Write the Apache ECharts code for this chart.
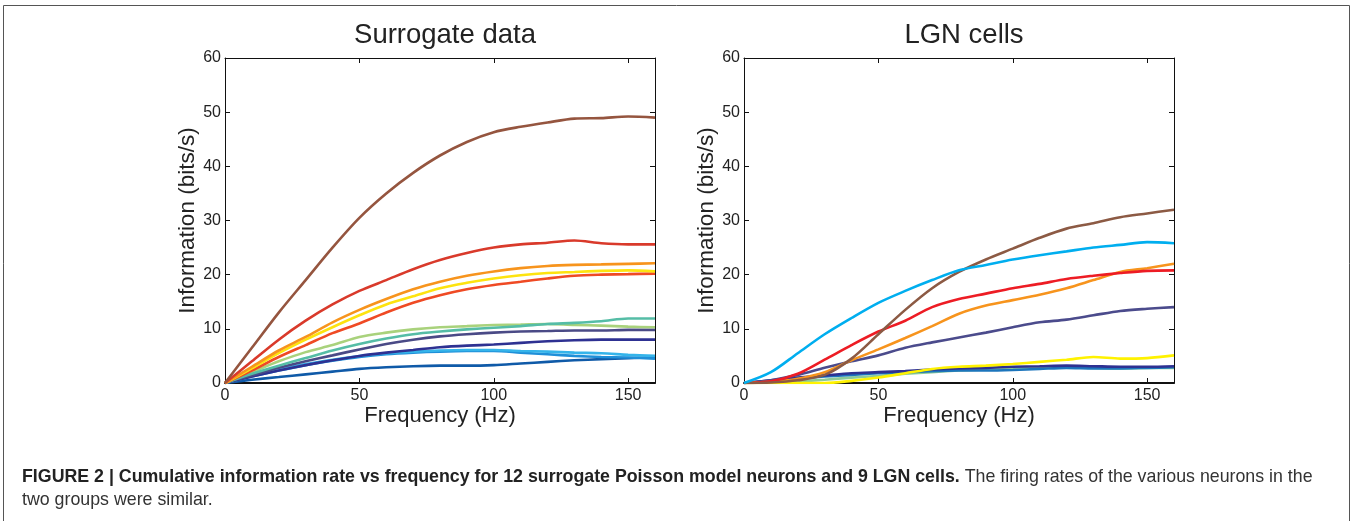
<!DOCTYPE html>
<html>
<head>
<meta charset="utf-8">
<script src="https://cdn.jsdelivr.net/npm/echarts@6/dist/echarts.min.js"></script>
<style>
  html, body { margin: 0; padding: 0; background: #fff; }
  #chart { width: 1353px; height: 521px; }
</style>
</head>
<body>
<div id="chart"></div>
<script>
// frequency samples (Hz)
const freq = [0, 10, 20, 30, 40, 50, 60, 70, 80, 90, 100, 110, 120, 130, 140, 150, 160];

// surrogate Poisson neurons, information (bits/s)
const surBrown     = [0, 6.5, 13, 19, 25, 30.5, 35, 38.8, 42, 44.5, 46.3, 47.3, 48.1, 48.8, 48.9, 49.2, 49];
const surRed       = [0, 4, 8, 11.5, 14.5, 17, 19, 21, 22.7, 24, 25, 25.6, 25.9, 26.3, 25.8, 25.6, 25.6];
const surOrange    = [0, 3, 6, 8.5, 11.2, 13.5, 15.5, 17.3, 18.7, 19.8, 20.6, 21.2, 21.6, 21.8, 21.9, 22, 22.1];
const surYellow    = [0, 2.7, 5.5, 8, 10.3, 12.5, 14.5, 16, 17.5, 18.5, 19.3, 19.9, 20.3, 20.5, 20.7, 20.8, 20.6];
const surRedOrange = [0, 2.3, 4.8, 7, 9.2, 11, 13, 14.8, 16.2, 17.3, 18.1, 18.7, 19.3, 19.8, 20, 20.1, 20.2];
const surTeal      = [0, 1.7, 3.2, 4.6, 6, 7.2, 8.2, 9, 9.5, 9.9, 10.2, 10.5, 10.9, 11.1, 11.4, 11.9, 11.9];
const surLtGreen   = [0, 2, 4, 5.7, 7, 8.5, 9.3, 9.9, 10.3, 10.5, 10.7, 10.8, 10.9, 10.7, 10.6, 10.4, 10.3];
const surSlate     = [0, 1.4, 2.8, 4, 5.1, 6.2, 7.2, 8, 8.6, 9, 9.3, 9.5, 9.6, 9.7, 9.7, 9.8, 9.8];
const surIndigo    = [0, 1.2, 2.3, 3.3, 4.2, 5, 5.6, 6.1, 6.6, 6.9, 7.1, 7.4, 7.7, 7.9, 8, 8, 8];
const surSky       = [0, 1.3, 2.5, 3.5, 4.3, 5, 5.5, 5.8, 6, 6.1, 6.1, 5.9, 5.8, 5.6, 5.5, 5.2, 5];
const surBlue      = [0, 1.2, 2.3, 3.3, 4.1, 4.8, 5.3, 5.6, 5.8, 5.9, 5.9, 5.6, 5.3, 5, 4.8, 4.7, 4.5];
const surDkBlue    = [0, 0.6, 1.1, 1.6, 2.1, 2.6, 2.9, 3.1, 3.2, 3.2, 3.3, 3.6, 3.9, 4.2, 4.4, 4.6, 4.7];

// LGN cells, information (bits/s)
const lgnCyan    = [0, 2, 5.5, 9, 12, 14.8, 17, 19, 20.8, 21.8, 22.8, 23.6, 24.3, 25, 25.5, 26, 25.8];
const lgnBrown   = [0, 0.1, 0.5, 1.5, 4.5, 9, 13.5, 17.5, 20.5, 22.8, 24.8, 26.8, 28.5, 29.5, 30.6, 31.3, 32];
const lgnRed     = [0, 0.3, 1.7, 4.3, 7, 9.5, 11.5, 14, 15.5, 16.5, 17.5, 18.3, 19.2, 19.8, 20.3, 20.7, 20.8];
const lgnOrange  = [0, 0.2, 0.8, 2, 4.2, 6.2, 8.3, 10.5, 12.8, 14.3, 15.3, 16.3, 17.5, 19, 20.5, 21.2, 22];
const lgnSlate   = [0, 0.5, 1.5, 2.8, 4, 5.1, 6.5, 7.5, 8.4, 9.3, 10.3, 11.2, 11.7, 12.5, 13.3, 13.7, 14];
const lgnYellow  = [0, 0, 0, 0, 0.4, 1, 1.8, 2.6, 3, 3.2, 3.5, 3.9, 4.3, 4.8, 4.5, 4.6, 5.1];
const lgnBlue    = [0, 0.4, 0.8, 1.2, 1.5, 1.8, 2, 2.2, 2.3, 2.3, 2.4, 2.6, 2.8, 2.7, 2.7, 2.8, 2.9];
const lgnNavy    = [0, 0.5, 1, 1.4, 1.8, 2, 2.2, 2.5, 2.7, 2.8, 3, 3.1, 3.2, 3.1, 3, 3, 3.1];
const lgnLtGreen = [0, 0.1, 0.3, 0.6, 1, 1.3, 1.7, 2, 2.3, 2.5, 2.6, 2.8, 3, 2.8, 2.7, 2.8, 2.8];

const xTicks = [0, 50, 100, 150];

const surrogate = [
  [surDkBlue, '#0f5aa8'], [surBlue, '#1f8fd8'], [surSky, '#35b4ea'],
  [surIndigo, '#2e3192'], [surSlate, '#4a4a86'], [surLtGreen, '#a9d27c'],
  [surTeal, '#55bda6'], [surRedOrange, '#ef4a24'], [surYellow, '#fde30f'],
  [surOrange, '#f7941d'], [surRed, '#d93a2b'], [surBrown, '#95553f']
];
const lgn = [
  [lgnLtGreen, '#8ccb98'], [lgnBlue, '#1c75bc'], [lgnNavy, '#2e3192'],
  [lgnYellow, '#fff200'], [lgnSlate, '#4b4b8c'], [lgnOrange, '#f7941d'],
  [lgnRed, '#ed1c24'], [lgnBrown, '#8c5a44'], [lgnCyan, '#00aeef']
];

const FONT = 'Liberation Sans, Arial, Helvetica, sans-serif';
const grids = [
  { left: 225, top: 58, width: 430, height: 325 },
  { left: 744, top: 58, width: 430, height: 325 }
];

const xAxes = [];
const yAxes = [];
grids.forEach((g, i) => {
  const base = {
    gridIndex: i, type: 'value', min: 0, max: 160, interval: 50,
    splitLine: { show: false },
    axisLine: { show: true, onZero: false, lineStyle: { color: '#111', width: 1 } },
    axisTick: { show: true, inside: true, length: 5, customValues: xTicks, lineStyle: { color: '#111' } }
  };
  xAxes.push(Object.assign({}, base, {
    position: 'bottom',
    name: 'Frequency (Hz)', nameLocation: 'middle', nameGap: 22,
    nameMoveOverlap: false,
    nameTextStyle: { fontFamily: FONT, fontSize: 22, color: '#222' },
    axisLabel: {
      fontFamily: FONT, fontSize: 16, color: '#222', margin: 5,
      customValues: xTicks, formatter: v => String(v)
    },
    axisLine: { show: true, onZero: false, lineStyle: { color: '#111', width: 2 } }
  }));
  xAxes.push(Object.assign({}, base, { position: 'top', axisLabel: { show: false } }));
  const ybase = {
    gridIndex: i, type: 'value', min: 0, max: 60, interval: 10,
    splitLine: { show: false },
    axisLine: { show: true, onZero: false, lineStyle: { color: '#111', width: 1 } },
    axisTick: { show: true, inside: true, length: 5, lineStyle: { color: '#111' } }
  };
  yAxes.push(Object.assign({}, ybase, {
    position: 'left',
    name: 'Information (bits/s)', nameLocation: 'middle', nameGap: 26,
    nameMoveOverlap: false,
    nameTextStyle: { fontFamily: FONT, fontSize: 22.5, color: '#222' },
    axisLabel: { fontFamily: FONT, fontSize: 16, color: '#222', margin: 4 }
  }));
  yAxes.push(Object.assign({}, ybase, { position: 'right', axisLabel: { show: false } }));
});

function makeSeries(list, gi) {
  return list.map(([vals, color]) => ({
    type: 'line',
    xAxisIndex: gi * 2,
    yAxisIndex: gi * 2,
    data: freq.map((f, k) => [f, vals[k]]),
    smooth: 0.3,
    showSymbol: false,
    lineStyle: { color: color, width: 2.6 },
    itemStyle: { color: color },
    z: 3
  }));
}

const chart = echarts.init(document.getElementById('chart'));
chart.setOption({
  animation: false,
  title: [
    { text: 'Surrogate data', left: 440, top: 16, textAlign: 'center',
      textStyle: { fontFamily: FONT, fontSize: 27.5, fontWeight: 'normal', color: '#222' } },
    { text: 'LGN cells', left: 959, top: 16, textAlign: 'center',
      textStyle: { fontFamily: FONT, fontSize: 27.5, fontWeight: 'normal', color: '#222' } }
  ],
  grid: grids,
  xAxis: xAxes,
  yAxis: yAxes,
  series: makeSeries(surrogate, 0).concat(makeSeries(lgn, 1)),
  graphic: [
    { type: 'rect', shape: { x: 3.5, y: 5.5, width: 1346, height: 530 },
      style: { fill: 'none', stroke: '#555', lineWidth: 1 }, silent: true },
    { type: 'text', left: 22, top: 468,
      style: {
        text: '{b|FIGURE 2 | Cumulative information rate vs frequency for 12 surrogate Poisson model neurons and 9 LGN cells.}{r| The firing rates of the various neurons in the}',
        rich: {
          b: { fontFamily: FONT, fontSize: 17.8, fontWeight: 'bold', fill: '#222' },
          r: { fontFamily: FONT, fontSize: 17.8, fill: '#333' }
        }
      } },
    { type: 'text', left: 22, top: 491,
      style: { text: 'two groups were similar.', fontFamily: FONT, fontSize: 17.8, fill: '#333' } }
  ]
});
</script>
</body>
</html>
